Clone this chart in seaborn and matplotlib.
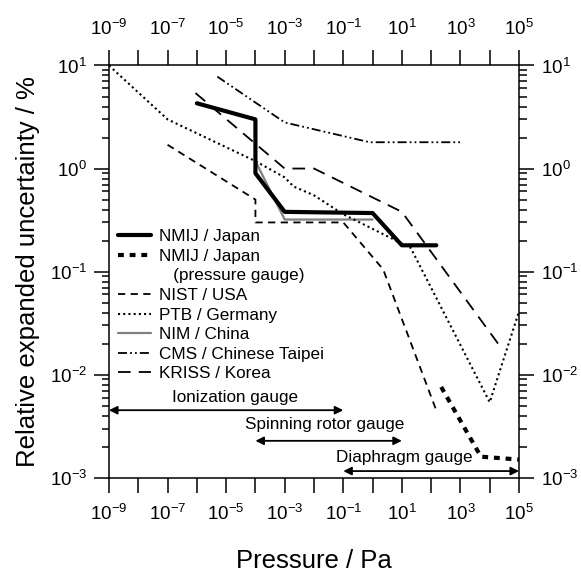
import pandas as pd
import seaborn as sns
import matplotlib.pyplot as plt
from matplotlib.lines import Line2D
from matplotlib.ticker import LogLocator, NullLocator, FixedLocator

# --- data ---
nmij_p = [1e-6, 1e-4, 1e-4, 1e-3, 1, 10, 150]
nmij_u = [4.3, 3.0, 0.9, 0.38, 0.37, 0.18, 0.18]

nmij_pg_p = [220, 5000, 1e5]
nmij_pg_u = [0.0076, 0.0016, 0.0015]

nist_p = [1e-7, 1e-4, 1e-4, 0.1, 2.3, 150]
nist_u = [1.7, 0.5, 0.30, 0.30, 0.105, 0.0045]

ptb_p = [1e-9, 1e-7, 1e-4, 1e-3, 2e-3, 1e-2, 0.1, 20, 1e4, 1e5]
ptb_u = [10, 3.0, 1.18, 0.82, 0.67, 0.55, 0.36, 0.17, 0.0054, 0.041]

nim_p = [1e-4, 1e-3, 1]
nim_u = [1.18, 0.32, 0.32]

cms_p = [5e-6, 1e-3, 0.8, 1000]
cms_u = [7.8, 2.8, 1.8, 1.8]

kriss_p = [9e-7, 1e-3, 1e-2, 10, 2.2e4]
kriss_u = [5.4, 1.0, 1.0, 0.38, 0.019]

gauges = ['Ionization gauge', 'Spinning rotor gauge', 'Diaphragm gauge']
gauge_lo = [1e-9, 1e-4, 1e-1]
gauge_hi = [1e-1, 10, 1e5]
gauge_y = [0.00452, 0.00228, 0.00116]
gauge_text_x = [2.0e-5, 0.0237, 12.6]
gauge_text_y = [0.00544, 0.00294, 0.00142]

x_decades = list(range(-9, 6))
y_decades = list(range(-3, 2))

# --- style ---
sns.set_style('ticks', {'axes.edgecolor': 'black', 'xtick.color': 'black',
                        'ytick.color': 'black', 'text.color': 'black',
                        'axes.labelcolor': 'black'})
plt.rcParams['font.family'] = ['Liberation Sans', 'DejaVu Sans']
plt.rcParams['mathtext.default'] = 'regular'
plt.rcParams['axes.unicode_minus'] = False

fig = plt.figure(figsize=(5.81, 5.75), dpi=100)
ax = fig.add_axes([0.1876, 0.1692, 0.7057, 0.7169])
ax.set_xscale('log')
ax.set_yscale('log')

series = [
    ('NMIJ / Japan', nmij_p, nmij_u, 'black', 3.0, '-', 5),
    ('NMIJ / Japan', nmij_pg_p, nmij_pg_u, 'black', 3.0, (0, (1.4, 1.4)), 4),
    ('NIST / USA', nist_p, nist_u, 'black', 1.3, (0, (4, 3)), 3),
    ('PTB / Germany', ptb_p, ptb_u, 'black', 1.5, (0, (1, 1.5)), 3),
    ('NIM / China', nim_p, nim_u, '#808080', 1.6, '-', 2),
    ('CMS / Chinese Taipei', cms_p, cms_u, 'black', 1.3, (0, (5, 1.7, 1, 1.7, 1, 1.7)), 3),
    ('KRISS / Korea', kriss_p, kriss_u, 'black', 1.3, (0, (7, 4.5)), 3),
]

handles, labels = [], []
for name, p, u, col, lw, ls, z in series:
    df = pd.DataFrame({'Pressure': p, 'Uncertainty': u})
    sns.lineplot(data=df, x='Pressure', y='Uncertainty', ax=ax, color=col,
                 linewidth=lw, linestyle=ls, sort=False, legend=False,
                 estimator=None, zorder=z)
    handles.append(ax.lines[-1])
    labels.append(name)
    if len(handles) == 2:
        # second text line of the pressure gauge entry
        handles.append(Line2D([], [], color='none'))
        labels.append('   (pressure gauge)')

# gauge ranges
for name, lo, hi, yv, tx, ty in zip(gauges, gauge_lo, gauge_hi, gauge_y, gauge_text_x, gauge_text_y):
    ax.annotate('', xy=(hi, yv), xytext=(lo, yv),
                arrowprops=dict(arrowstyle='<|-|>', color='black', lw=1.3,
                                mutation_scale=12, shrinkA=0, shrinkB=0))
    ax.text(tx, ty, name, ha='center', va='baseline', fontsize=12.3)

# axes
ax.set_xlim(1e-9, 1e5)
ax.set_ylim(1e-3, 1e1)
ax.xaxis.set_major_locator(FixedLocator([10.0 ** e for e in x_decades]))
ax.set_xticklabels([f'$\\mathdefault{{10^{{{e}}}}}$' if e % 2 else '' for e in x_decades])
ax.xaxis.set_minor_locator(NullLocator())
ax.yaxis.set_major_locator(FixedLocator([10.0 ** e for e in y_decades]))
ax.set_yticklabels([f'$\\mathdefault{{10^{{{e}}}}}$' for e in y_decades])
ax.yaxis.set_minor_locator(LogLocator(base=10, subs=range(2, 10)))

ax.tick_params(which='both', direction='out', top=True, right=True,
               labeltop=True, labelright=True, width=1.1, labelsize=13.5)
ax.tick_params(which='major', length=10.8)
ax.tick_params(which='minor', length=5.4)
ax.tick_params(axis='x', which='major', pad=8)
ax.tick_params(axis='y', which='major', pad=5)
ax.tick_params(axis='y', which='minor', labelleft=False, labelright=False)
for s in ax.spines.values():
    s.set_linewidth(1.1)
    s.set_visible(True)

ax.set_xlabel('Pressure / Pa', fontsize=18.5)
ax.set_ylabel('Relative expanded uncertainty / %', fontsize=18.5)
ax.xaxis.set_label_coords(0.5, -0.172)
ax.yaxis.set_label_coords(-0.168, 0.5)

ax.legend(handles, labels, loc='upper left', bbox_to_anchor=(0.022, 0.603),
          frameon=False, borderaxespad=0, borderpad=0, handlelength=1.93,
          handletextpad=0.47, labelspacing=0.27, fontsize=12.3)

fig.savefig('out.png', dpi=100)
